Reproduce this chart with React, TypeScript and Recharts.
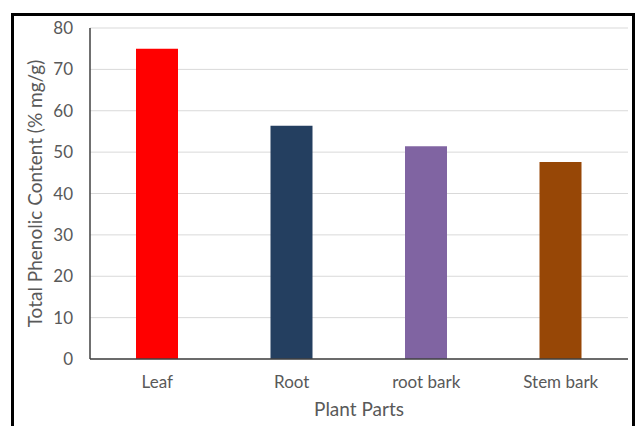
import { BarChart, Bar, XAxis, YAxis, CartesianGrid, Cell, Label } from "recharts";

const parts = ["Leaf", "Root", "root bark", "Stem bark"];
const phenolic = [75, 56.4, 51.4, 47.6];
const barColors = ["#FF0000", "#243F60", "#8064A2", "#974706"];
const yTicks = [0, 10, 20, 30, 40, 50, 60, 70, 80];

const data = parts.map((part, i) => ({ part, value: phenolic[i] }));

const font = "Lato, 'Open Sans', sans-serif";

export default function App() {
  return (
    <div style={{ position: "absolute", left: 0, top: 0, width: 635, height: 426, background: "#fff", overflow: "hidden" }}>
      {/* outer frame, open at the bottom */}
      <div
        style={{
          position: "absolute",
          left: 11,
          top: 13,
          width: 618,
          height: 430,
          border: "3px solid #000",
          boxSizing: "content-box",
        }}
      />
      <BarChart
        width={635}
        height={426}
        data={data}
        margin={{ top: 28, right: 7, left: 30, bottom: 27 }}
        style={{ position: "absolute", left: 0, top: 0, fontFamily: font }}
      >
        <CartesianGrid vertical={false} stroke="#D9D9D9" strokeWidth={1} />
        <XAxis
          dataKey="part"
          height={40}
          tickLine={false}
          tickSize={0}
          tickMargin={17}
          axisLine={{ stroke: "#404040", strokeWidth: 1.5 }}
          tick={{ fill: "#595959", fontSize: 17 }}
        >
          <Label value="Plant Parts" position="bottom" offset={4} fill="#595959" fontSize={19} />
        </XAxis>
        <YAxis
          width={60}
          domain={[0, 80]}
          ticks={yTicks}
          tickLine={false}
          tickSize={0}
          tickMargin={17}
          axisLine={{ stroke: "#404040", strokeWidth: 1.5 }}
          tick={{ fill: "#595959", fontSize: 17 }}
        >
          <Label
            value="Total Phenolic Content (% mg/g)"
            position="center"
            angle={-90}
            dx={-25}
            fill="#595959"
            fontSize={19}
          />
        </YAxis>
        <Bar dataKey="value" barSize={42} isAnimationActive={false}>
          {data.map((d, i) => (
            <Cell key={d.part} fill={barColors[i]} />
          ))}
        </Bar>
      </BarChart>
    </div>
  );
}
